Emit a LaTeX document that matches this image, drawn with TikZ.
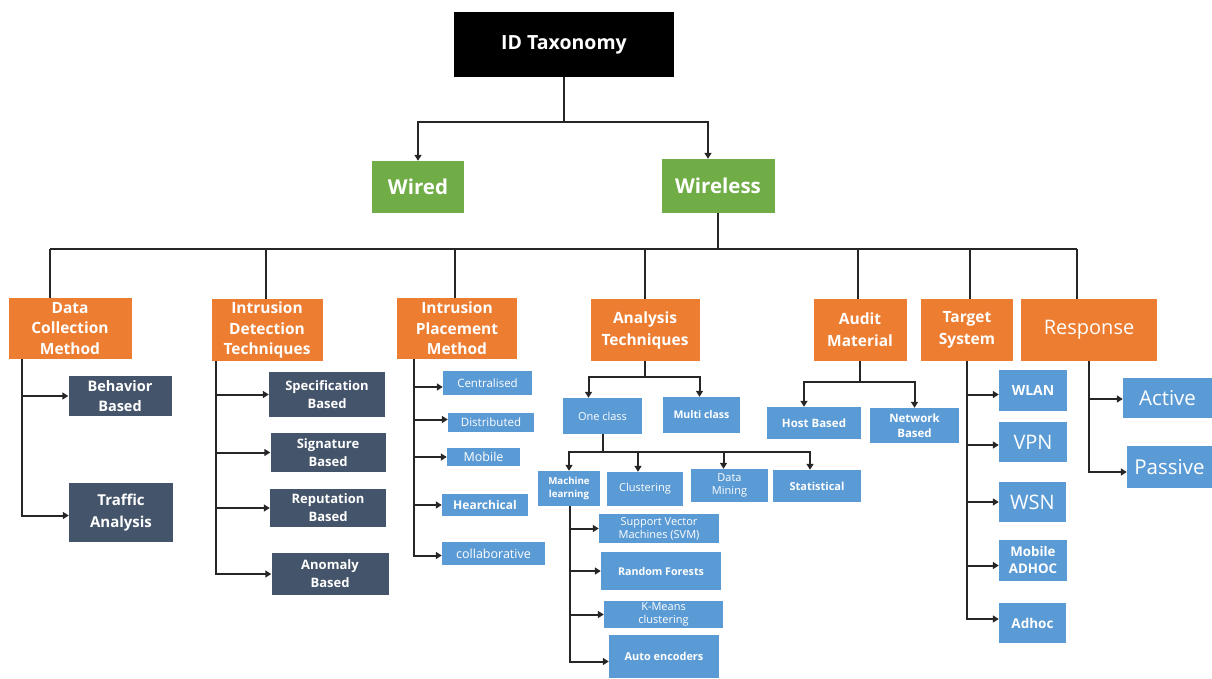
\documentclass[tikz,border=0pt]{standalone}
\usepackage{fontspec}
\setmainfont{Open Sans}
\usetikzlibrary{arrows.meta}
\definecolor{orangeC}{HTML}{ED7D31}
\definecolor{greenC}{HTML}{70AD47}
\definecolor{blueC}{HTML}{5B9BD5}
\definecolor{slateC}{HTML}{44546A}
\definecolor{lineC}{HTML}{262626}
\begin{document}
\begin{tikzpicture}[x=1pt,y=-1pt,
  box/.style={draw=none, inner sep=1pt, align=center, text=white},
  rootbox/.style={box, fill=black, font=\bfseries\fontsize{19.5}{22}\selectfont},
  greenbox/.style={box, fill=greenC, font=\bfseries\fontsize{20.5}{24}\selectfont},
  orangebox/.style={box, fill=orangeC, font=\bfseries\fontsize{15.5}{20.5}\selectfont},
  slatebox/.style={box, fill=slateC, font=\bfseries\fontsize{15}{22}\selectfont},
  slatesmall/.style={box, fill=slateC, font=\bfseries\fontsize{13}{18}\selectfont},
  bluebox/.style={box, fill=blueC, font=\fontsize{11}{13.5}\selectfont},
  blueboldbox/.style={box, fill=blueC, font=\bfseries\fontsize{11}{13.5}\selectfont},
  bluebig/.style={box, fill=blueC, font=\fontsize{20}{24}\selectfont},
  conn/.style={draw=lineC, line width=2pt},
  arr/.style={conn, -{Triangle[length=6pt,width=7pt]}}]
\useasboundingbox (0,0) rectangle (1212,679);

% top levels
\node[rootbox, minimum width=220pt, minimum height=65pt] (root) at (564,44.5) {ID Taxonomy};
\node[greenbox, minimum width=92pt, minimum height=52pt] (wired) at (418,187) {Wired};
\node[greenbox, minimum width=113pt, minimum height=54pt] (wireless) at (718,186) {Wireless};

% orange categories
\node[orangebox, minimum width=123pt, minimum height=61pt] (dcm) at (70,328.5) {Data\\Collection\\Method};
\node[orangebox, minimum width=111pt, minimum height=62pt] (idt) at (267,330) {Intrusion\\Detection\\Techniques};
\node[orangebox, minimum width=120pt, minimum height=61pt] (ipm) at (457,328.5) {Intrusion\\Placement\\Method};
\node[orangebox, minimum width=109pt, minimum height=62pt, font=\bfseries\fontsize{15.5}{22}\selectfont] (at) at (645,330) {Analysis\\Techniques};
\node[orangebox, minimum width=93pt, minimum height=62pt, font=\bfseries\fontsize{15.5}{22}\selectfont] (am) at (860,330) {Audit\\Material};
\node[orangebox, minimum width=92pt, minimum height=62pt, font=\bfseries\fontsize{15.5}{22}\selectfont] (ts) at (967,330) {Target\\System};
\node[orangebox, minimum width=136pt, minimum height=62pt, font=\fontsize{20}{24}\selectfont] (resp) at (1089,330) {Response};

% data collection children
\node[slatebox, minimum width=103pt, minimum height=40pt, font=\bfseries\fontsize{14.5}{20}\selectfont] (beh) at (120,396) {Behavior\\Based};
\node[slatebox, minimum width=104pt, minimum height=59pt] (traf) at (121,512.5) {Traffic\\Analysis};

% intrusion detection children
\node[slatesmall, minimum width=116pt, minimum height=45pt] (spec) at (327,394.5) {Specification\\Based};
\node[slatesmall, minimum width=115pt, minimum height=39pt] (sig) at (328,452.5) {Signature\\Based};
\node[slatesmall, minimum width=116pt, minimum height=38pt] (rep) at (328,508) {Reputation\\Based};
\node[slatesmall, minimum width=117pt, minimum height=42pt] (anom) at (330,574) {Anomaly\\Based};

% placement children
\node[bluebox, minimum width=89pt, minimum height=24pt, font=\fontsize{11.5}{14}\selectfont] (cent) at (487.5,383) {Centralised};
\node[bluebox, minimum width=86pt, minimum height=19pt, font=\fontsize{11.5}{14}\selectfont] (dist) at (491,422.5) {Distributed};
\node[bluebox, minimum width=73pt, minimum height=18pt, font=\fontsize{12.5}{14}\selectfont] (mob) at (483.5,457) {Mobile};
\node[blueboldbox, minimum width=86pt, minimum height=22pt, font=\bfseries\fontsize{12}{14}\selectfont] (hier) at (485,505) {Hearchical};
\node[bluebox, minimum width=103pt, minimum height=23pt, font=\fontsize{12.5}{14}\selectfont] (coll) at (493.5,553.5) {collaborative};

% analysis children
\node[bluebox, minimum width=79pt, minimum height=36pt] (one) at (602.5,416) {One class};
\node[blueboldbox, minimum width=77pt, minimum height=36pt, font=\bfseries\fontsize{10.5}{13}\selectfont] (multi) at (701.5,415) {Multi class};
\node[blueboldbox, minimum width=62pt, minimum height=35pt, font=\bfseries\fontsize{9.7}{12.5}\selectfont] (ml) at (569,488.5) {Machine\\learning};
\node[bluebox, minimum width=76pt, minimum height=34pt] (clus) at (645,489) {Clustering};
\node[bluebox, minimum width=77pt, minimum height=33pt] (dm) at (729.5,485.5) {Data\\Mining};
\node[blueboldbox, minimum width=88pt, minimum height=32pt] (stat) at (817,486) {Statistical};
\node[bluebox, minimum width=120pt, minimum height=29pt, font=\fontsize{11}{13}\selectfont] (svm) at (659,528.5) {Support Vector\\Machines (SVM)};
\node[blueboldbox, minimum width=120pt, minimum height=38pt, font=\bfseries\fontsize{10.7}{13}\selectfont] (rf) at (661,571) {Random Forests};
\node[bluebox, minimum width=119pt, minimum height=27pt, font=\fontsize{11}{13}\selectfont] (km) at (663.5,614.5) {K-Means\\clustering};
\node[blueboldbox, minimum width=110pt, minimum height=43pt, font=\bfseries\fontsize{10.9}{13}\selectfont] (ae) at (664,656.5) {Auto encoders};

% audit children
\node[blueboldbox, minimum width=94pt, minimum height=32pt, font=\bfseries\fontsize{11.5}{13}\selectfont] (host) at (814,423) {Host Based};
\node[blueboldbox, minimum width=89pt, minimum height=35pt, font=\bfseries\fontsize{11.5}{15}\selectfont] (net) at (914.5,425.5) {Network\\Based};

% target children
\node[blueboldbox, minimum width=68pt, minimum height=41pt, font=\bfseries\fontsize{14}{16}\selectfont] (wlan) at (1033,390.5) {WLAN};
\node[bluebig, minimum width=68pt, minimum height=40pt] (vpn) at (1033,442) {VPN};
\node[bluebig, minimum width=67pt, minimum height=40pt] (wsn) at (1032.5,502) {WSN};
\node[blueboldbox, minimum width=68pt, minimum height=41pt, font=\bfseries\fontsize{13.3}{17}\selectfont] (madhoc) at (1033,560.5) {Mobile\\ADHOC};
\node[blueboldbox, minimum width=67pt, minimum height=40pt, font=\bfseries\fontsize{13.5}{16}\selectfont] (adhoc) at (1032.5,623) {Adhoc};

% response children
\node[bluebig, minimum width=89pt, minimum height=40pt, font=\fontsize{20.5}{24}\selectfont] (active) at (1167.5,398) {Active};
\node[bluebig, minimum width=85pt, minimum height=42pt, font=\fontsize{20.5}{24}\selectfont] (passive) at (1169.5,467) {Passive};

% ---- connectors ----
\coordinate (rj) at (564,122);
\draw[conn] (root.south) -- (rj);
\draw[arr] (rj) -| (wired.north);
\draw[arr] (rj) -| ([xshift=-10pt]wireless.north);

\coordinate (busL) at (50,249);
\coordinate (busR) at (1077,249);
\draw[conn] (wireless.south) -- (wireless.south |- busL);
\draw[conn] (busL) -- (busR);
\draw[conn] (busL) -- (busL |- dcm.north);
\draw[conn] ([xshift=-1pt]idt.north |- busL) -- ([xshift=-1pt]idt.north);
\draw[conn] ([xshift=-2pt]ipm.north |- busL) -- ([xshift=-2pt]ipm.north);
\draw[conn] (at.north |- busL) -- (at.north);
\draw[conn] ([xshift=-2pt]am.north |- busL) -- ([xshift=-2pt]am.north);
\draw[conn] ([xshift=3pt]ts.north |- busL) -- ([xshift=3pt]ts.north);
\draw[conn] (busR) -- (busR |- resp.north);

% data collection
\coordinate (dcmS) at (22,359);
\draw[arr] (dcmS |- beh.west) -- (beh.west);
\draw[arr] (dcmS) |- ([yshift=-3pt]traf.west);

% intrusion detection
\coordinate (idtS) at (216,361);
\draw[arr] (idtS |- spec.west) -- (spec.west);
\draw[arr] (idtS |- sig.west) -- (sig.west);
\draw[arr] (idtS |- rep.west) -- (rep.west);
\draw[arr] (idtS) |- (anom.west);

% placement
\coordinate (ipmS) at (414,359);
\draw[arr] ([yshift=-4pt]ipmS |- cent.west) -- ([yshift=-4pt]cent.west);
\draw[arr] ([yshift=3pt]ipmS |- dist.west) -- ([yshift=3pt]dist.west);
\draw[arr] (ipmS |- mob.west) -- (mob.west);
\draw[arr] (ipmS |- hier.west) -- (hier.west);
\draw[arr] (ipmS) |- ([yshift=-2pt]coll.west);

% analysis
\coordinate (atj) at (645,377);
\draw[conn] (at.south) -- (atj);
\draw[arr] (atj) -| ([xshift=-14pt]one.north);
\draw[arr] (atj) -| ([xshift=-2pt]multi.north);
\coordinate (ocj) at (one.south |- 0,452);
\draw[conn] (one.south) -- (ocj);
\draw[arr] (ocj) -| (ml.north);
\draw[arr] (ocj) -| ([xshift=-7pt]clus.north);
\draw[arr] (ocj) -| ([xshift=-6pt]dm.north);
\draw[arr] (ocj) -| ([xshift=-7pt]stat.north);

% machine learning
\coordinate (mlS) at (570,506);
\draw[arr] (mlS |- svm.west) -- (svm.west);
\draw[arr] (mlS |- rf.west) -- (rf.west);
\draw[arr] (mlS |- km.west) -- (km.west);
\draw[arr] (mlS) |- ([yshift=-5pt]ae.west);

% audit
\coordinate (amj) at (860,382);
\draw[conn] (am.south) -- (amj);
\draw[arr] (amj) -| ([xshift=-10pt]host.north);
\draw[arr] (amj) -| (net.north);

% target
\draw[arr] ([yshift=-4pt]ts.south |- wlan.west) -- ([yshift=-4pt]wlan.west);
\draw[arr] ([yshift=-3pt]ts.south |- vpn.west) -- ([yshift=-3pt]vpn.west);
\draw[arr] (ts.south |- wsn.west) -- (wsn.west);
\draw[arr] ([yshift=-5pt]ts.south |- madhoc.west) -- ([yshift=-5pt]madhoc.west);
\draw[arr] (ts.south) |- ([yshift=4pt]adhoc.west);

% response
\draw[arr] ([yshift=-1pt]resp.south |- active.west) -- ([yshift=-1pt]active.west);
\draw[arr] (resp.south) |- ([yshift=-5pt]passive.west);
\end{tikzpicture}
\end{document}
